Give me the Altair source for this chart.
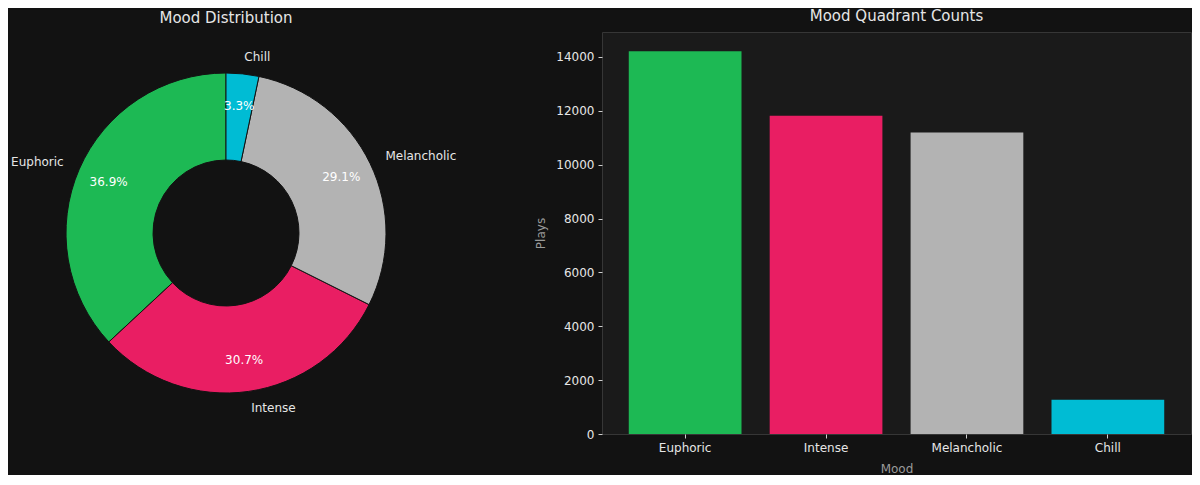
import altair as alt
import pandas as pd

moods = ["Euphoric", "Intense", "Melancholic", "Chill"]
plays = [14215, 11815, 11198, 1270]
colors = ["#1DB954", "#E91E63", "#B3B3B3", "#00BCD4"]

BG = "#121212"
AX_BG = "#1a1a1a"
SPINE = "#363636"
TXT = "#e6e6e6"
SUB = "#9a9a9a"
FONT = "DejaVu Sans"

df = pd.DataFrame({"mood": moods, "plays": plays, "idx": list(range(len(moods)))})

color_scale = alt.Scale(domain=moods, range=colors)

# ---------- donut ----------
base = alt.Chart(df).transform_joinaggregate(
    total="sum(plays)"
).transform_calculate(
    pct="format(datum.plays / datum.total * 100, '.1f') + '%'",
    rorder="-datum.idx",
).transform_window(
    cum="sum(plays)", sort=[alt.SortField("rorder", order="ascending")]
).transform_calculate(
    mid="(datum.cum - datum.plays / 2) / datum.total",
    lab_left="datum.mid <= 0.5 ? datum.mood : ''",
    lab_right="datum.mid > 0.5 ? datum.mood : ''",
)

theta = alt.Theta("plays:Q", stack=True)
order = alt.Order("rorder:Q", sort="ascending")

arcs = base.mark_arc(outerRadius=160, innerRadius=73, stroke=BG, strokeWidth=1).encode(
    theta=theta,
    order=order,
    color=alt.Color("mood:N", scale=color_scale, legend=None),
)

pct = base.mark_text(radius=128, fontSize=12, font=FONT, color="white",
                     align="center", baseline="middle").encode(
    theta=theta, order=order, text="pct:N"
)

lab_l = base.mark_text(radius=177, fontSize=12, font=FONT, color=TXT,
                       align="left", baseline="middle").encode(
    theta=theta, order=order, text="lab_left:N"
)
lab_r = base.mark_text(radius=177, fontSize=12, font=FONT, color=TXT,
                       align="right", baseline="middle").encode(
    theta=theta, order=order, text="lab_right:N"
)

donut = alt.layer(arcs, pct, lab_l, lab_r).properties(
    width=436, height=402,
    title=alt.TitleParams("Mood Distribution", fontSize=15, font=FONT,
                          color=TXT, fontWeight="normal", offset=6),
)

# ---------- bars ----------
bars = alt.Chart(df).mark_bar(stroke=None).encode(
    x=alt.X("mood:N", sort=moods,
            scale=alt.Scale(paddingInner=0.2, paddingOuter=0.19),
            axis=alt.Axis(title="Mood", labelAngle=0, titlePadding=10)),
    y=alt.Y("plays:Q", scale=alt.Scale(domain=[0, 14926], nice=False),
            axis=alt.Axis(title="Plays", format="d", titlePadding=8,
                          values=list(range(0, 14001, 2000)))),
    color=alt.Color("mood:N", scale=color_scale, legend=None),
).properties(
    width=589, height=402,
    title=alt.TitleParams("Mood Quadrant Counts", fontSize=15, font=FONT,
                          color=TXT, fontWeight="normal", offset=8),
)

chart = alt.hconcat(donut, bars, spacing=77).configure(
    background=BG, font=FONT, padding={"left": 0, "top": 0, "right": 0, "bottom": 0}
).configure_view(
    fill=AX_BG, stroke=SPINE, strokeWidth=1
).configure_axis(
    domain=False, grid=False,
    tickColor="#cfcfcf", tickSize=4, tickWidth=1,
    labelColor=TXT, labelFontSize=12, labelFont=FONT, labelPadding=4,
    titleColor=SUB, titleFontSize=12, titleFont=FONT, titleFontWeight="normal",
)

chart.save("out.html", embed_options={"renderer": "svg", "actions": False})
